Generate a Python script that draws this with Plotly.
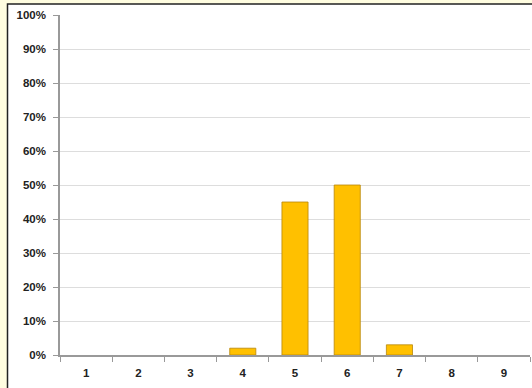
import plotly.graph_objects as go

categories = ["1", "2", "3", "4", "5", "6", "7", "8", "9"]
values = [0, 0, 0, 2, 45, 50, 3, 0, 0]
y_ticks = [0, 10, 20, 30, 40, 50, 60, 70, 80, 90, 100]
y_labels = [f"{v}%" for v in y_ticks]

W, H = 532, 388
L, R, T, B = 60, 2, 15, 33
pw, ph = W - L - R, H - T - B

def px_x(p):
    return (p - L) / pw

def px_y(p):
    return (H - B - p) / ph

fig = go.Figure(go.Bar(
    x=categories, y=values,
    marker=dict(color="#FFC000",
                line=dict(color="#B8860B", width=[0.8 if v > 0 else 0 for v in values])),
    width=0.5,
))

fig.add_shape(type="rect", xref="paper", yref="paper",
              x0=px_x(7.5), x1=px_x(W + 10), y0=px_y(H + 10), y1=px_y(4),
              fillcolor="white", line=dict(color="#222222", width=1.5), layer="below")

fig.update_layout(
    width=W, height=H,
    margin=dict(l=L, r=R, t=T, b=B, pad=0),
    paper_bgcolor="#FFFDE0",
    plot_bgcolor="rgba(0,0,0,0)",
    showlegend=False,
    font=dict(family="Liberation Sans, Arial, sans-serif", size=11.5, color="#222222"),
    bargap=0.5,
)
fig.update_xaxes(
    type="category", tickson="boundaries", ticks="outside", ticklen=5,
    tickcolor="#999999", showline=True, linecolor="#999999", linewidth=1.5,
    showgrid=False, tickfont=dict(size=11.5, weight="bold"),
    ticklabelstandoff=6,
    range=[-0.5, 8.5],
)
fig.update_yaxes(
    range=[0, 100], tickvals=y_ticks, ticktext=y_labels,
    ticks="outside", ticklen=5, tickcolor="#999999",
    showline=True, linecolor="#999999", linewidth=1.5,
    gridcolor="#DDDDDD", gridwidth=1, zeroline=False,
    tickfont=dict(size=11.5, weight="bold"),
    ticklabelstandoff=5,
)

fig.write_html("out.html")
